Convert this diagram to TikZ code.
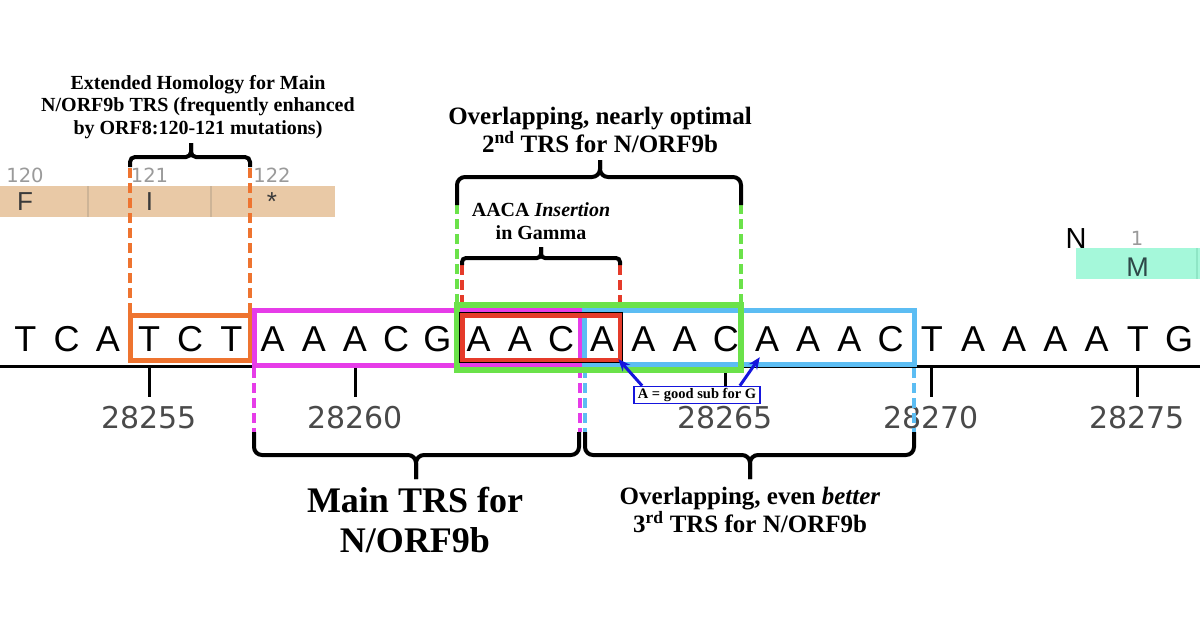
\documentclass[tikz,border=0pt]{standalone}
\usepackage{fontspec}
\setmainfont{Liberation Serif}
\newfontfamily\seqfont{Liberation Sans}
\newfontfamily\numfont{DejaVu Sans}
\usetikzlibrary{arrows.meta}

\definecolor{orfbar}{HTML}{E9C9A6}
\definecolor{orfline}{HTML}{CDB497}
\definecolor{mintbar}{HTML}{A5F8DA}
\definecolor{mintline}{HTML}{8FE6C6}
\definecolor{aagray}{HTML}{3A3A3A}
\definecolor{numgray}{HTML}{9A9A9A}
\definecolor{tickgray}{HTML}{4A4A4A}
\definecolor{homorange}{HTML}{EE7430}
\definecolor{mainpink}{HTML}{E63CE8}
\definecolor{secgreen}{HTML}{6BE24A}
\definecolor{insred}{HTML}{E53B2A}
\definecolor{thirdblue}{HTML}{5CBDF3}
\definecolor{subblue}{HTML}{1515DD}

\begin{document}
\begin{tikzpicture}[x=1pt, y=-1pt,
    base node/.style={inner sep=0pt, anchor=base, font=\seqfont\fontsize{36}{36}\selectfont},
    tick label/.style={inner sep=0pt, anchor=base, text=tickgray, font=\numfont\fontsize{30}{30}\selectfont},
    codon node/.style={inner sep=0pt, anchor=base, text=aagray, font=\seqfont\fontsize{26}{26}\selectfont},
    codon number/.style={inner sep=0pt, anchor=base, text=numgray, font=\numfont\fontsize{19.5}{19.5}\selectfont},
    small text/.style={align=center, inner sep=0pt, font=\bfseries\fontsize{20}{22.5}\selectfont},
    trs text/.style={align=center, inner sep=0pt, font=\bfseries\fontsize{25}{27.5}\selectfont},
    big text/.style={align=center, inner sep=0pt, font=\bfseries\fontsize{36}{40}\selectfont},
    guide/.style={line width=4pt, dash pattern=on 10pt off 5pt},
    trs box/.style={line width=5pt},
    brace line/.style={line width=4pt},
    sub arrow/.style={line width=3pt, draw=subblue, -{Stealth[length=12pt,width=10pt]}}]

  \useasboundingbox (0,0) rectangle (1200,619);
  \fill[white] (0,0) rectangle (1200,619);

  % ORF8 and N tracks
  \fill[orfbar] (0,186) rectangle (335,217);
  \draw[orfline, line width=1.5pt] (88,186) -- (88,217) (211,186) -- (211,217);
  \foreach \x/\aa/\n in {25/F/120, 149.5/I/121, 272/{*}/122} {
    \node[codon node] (aa\n) at (\x,210) {\aa};
    \node[codon number] (cn\n) at (\x,182) {\n};
  }
  \fill[mintbar] (1076,248) rectangle (1200,279);
  \draw[mintline, line width=1.5pt] (1197,248) -- (1197,279);
  \node[codon node, text=black, font=\seqfont\fontsize{29}{29}\selectfont] (geneN) at (1076,248) {N};
  \node[codon number] (cn1) at (1137,245) {1};
  \node[codon node, text=aagray!80!teal, font=\seqfont\fontsize{27}{27}\selectfont] (aaM) at (1137.5,276) {M};

  % axis and ticks
  \draw[line width=3pt] (0,366) -- (1200,366);
  \foreach \pos/\num in {149/28255, 355/28260, 725/28265, 931/28270, 1137/28275} {
    \draw[line width=3pt] (\pos,366) -- (\pos,397);
    \node[tick label] (t\num) at (\pos,428) {\num};
  }

  % dashed guides
  \draw[guide, homorange] (130,168) -- (130,313) (250,168) -- (250,313);
  \draw[guide, secgreen] (457,204) -- (457,303) (741,204) -- (741,303);
  \draw[guide, insred] (462,265) -- (462,313) (620,265) -- (620,313);
  \draw[guide, mainpink] (254,368) -- (254,432) (580,368) -- (580,432);
  \draw[guide, thirdblue] (585,368) -- (585,432) (914,368) -- (914,432);

  % TRS boxes
  \draw[trs box, homorange] (130,315) rectangle (250,360);
  \draw[trs box, mainpink] (254,310) rectangle (580,365);
  \draw[trs box, thirdblue] (584,310) rectangle (914,364);
  \draw[trs box, secgreen, line width=6pt] (457,305) rectangle (741,370);
  \draw[trs box, insred] (462,315) rectangle (620,360);
  \draw[line width=1pt] (459.5,312.5) rectangle (622.5,362.5);

  % sequence
  \foreach \b [count=\i from 0] in {T,C,A,T,C,T,A,A,A,C,G,A,A,C,A,A,A,C,A,A,A,C,T,A,A,A,A,T,G}
    \node[base node] (b\i) at ({25.4+41.2*\i},351) {\b};

  % braces
  \foreach \xa/\xb/\yend/\yline/\ytip/\xtip/\r in {130/250/167/157/143/191/5,
      457/741/205/177/160/600/8, 462/620/265/258/247/541/4,
      254/579/432/455/479/416/8, 585/914/432/455/479/750/8} {
    \draw[brace line, rounded corners=\r pt] (\xa,\yend) |- (\xtip,\yline) -- (\xtip,\ytip);
    \draw[brace line, rounded corners=\r pt] (\xb,\yend) |- (\xtip,\yline) -- (\xtip,\ytip);
  }

  % labels
  \node[small text] (homology) at (198,107) {Extended Homology for Main\\N/ORF9b TRS (frequently enhanced\\by ORF8:120-121 mutations)};
  \node[trs text] (second) at (600,130) {Overlapping, nearly optimal\\2\textsuperscript{nd} TRS for N/ORF9b};
  \node[small text] (insertion) at (541,221) {AACA \textit{Insertion}\\in Gamma};
  \node[big text] (main) at (415,520) {Main TRS for\\N/ORF9b};
  \node[trs text] (third) at (750,510) {Overlapping, even \textit{better}\\3\textsuperscript{rd} TRS for N/ORF9b};

  % substitution note
  \node[draw=subblue, line width=1.5pt, fill=white, inner xsep=4pt, inner ysep=1.5pt, minimum height=17pt,
        font=\bfseries\fontsize{14.5}{14.5}\selectfont] (subnote) at (697,395) {A = good sub for G};
  \draw[sub arrow] ([xshift=9pt]subnote.north west) -- ([xshift=4pt,yshift=-8pt]b14.south east);
  \draw[sub arrow] ([xshift=-21pt]subnote.north east) -- ([xshift=5pt,yshift=-6pt]b18.south west);

\end{tikzpicture}
\end{document}
